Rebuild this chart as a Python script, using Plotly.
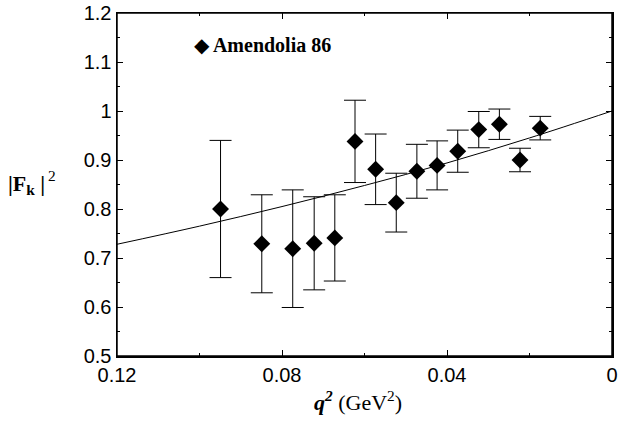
import plotly.graph_objects as go

# Data
q2 = [0.0949, 0.0849, 0.0774, 0.0722, 0.0672, 0.0623, 0.0573, 0.0523,
      0.0473, 0.0424, 0.0374, 0.0323, 0.0273, 0.0223, 0.0174]
ff2 = [0.800, 0.729, 0.719, 0.730, 0.741, 0.938, 0.881, 0.813,
       0.877, 0.889, 0.918, 0.962, 0.973, 0.900, 0.965]
err = [0.140, 0.100, 0.120, 0.095, 0.088, 0.084, 0.072, 0.060,
       0.055, 0.050, 0.043, 0.037, 0.031, 0.024, 0.024]

# Model curve
curve_q2 = [0.0, 0.02, 0.04, 0.06, 0.08, 0.10, 0.12]
curve_ff2 = [1.000, 0.945, 0.894, 0.848, 0.805, 0.765, 0.728]

# Tick spacing (labels: 0.12, 0.08, 0.04, 0 and 0.5 ... 1.2)
x_major, x_minor_step = 0.04, 0.02
y_major, y_minor_step = 0.1, 0.05

SERIF = "Liberation Serif"
SANS = "Liberation Sans"

fig = go.Figure()
fig.add_trace(go.Scatter(
    x=curve_q2, y=curve_ff2, mode="lines", line=dict(color="black", width=1, shape="spline"),
    showlegend=False, hoverinfo="skip"))
fig.add_trace(go.Scatter(
    x=q2, y=ff2, mode="markers", name="Amendolia 86", showlegend=False,
    marker=dict(symbol="diamond", size=13, color="black"),
    error_y=dict(type="data", array=err, visible=True, color="black", thickness=1, width=11)))

axis_common = dict(
    showgrid=False, zeroline=False, showline=True, linecolor="black", linewidth=1.5,
    mirror="allticks", ticks="inside", tickcolor="black", ticklen=6, tickwidth=1,
    tickfont=dict(family=SANS, size=20, color="black"),
    automargin=False, fixedrange=True, tickmode="linear",
)
fig.update_xaxes(range=[0.12, 0], tick0=0, dtick=x_major, tickformat=".2~f",
                 minor=dict(dtick=x_minor_step, tick0=0, ticks="inside", ticklen=3,
                            tickcolor="black", tickwidth=1, showgrid=False),
                 **axis_common)
fig.update_yaxes(range=[0.5, 1.2], tick0=0.5, dtick=y_major, tickformat=".1~f",
                 minor=dict(dtick=y_minor_step, tick0=0.5, ticks="inside", ticklen=3,
                            tickcolor="black", tickwidth=1, showgrid=False),
                 **axis_common)

fig.update_layout(
    width=619, height=421,
    margin=dict(l=117, r=7, t=13, b=65),
    paper_bgcolor="white", plot_bgcolor="white",
    showlegend=False,
    shapes=[dict(type="rect", xref="paper", yref="paper", x0=0, x1=1, y0=0, y1=1,
                 line=dict(color="black", width=1.5), fillcolor="rgba(0,0,0,0)", layer="above")],
    annotations=[
        # legend entry
        dict(xref="paper", yref="paper", x=0.152, y=0.907, xanchor="left", yanchor="middle",
             showarrow=False,
             text="◆<b> Amendolia 86</b>",
             font=dict(family=SERIF, size=20, color="black")),
        # y-axis title
        dict(xref="paper", yref="paper", x=-0.172, y=0.51, xanchor="center", yanchor="middle",
             showarrow=False,
             text="<b>|F</b><sub><b>k</b></sub><b> |</b><sup><sup> </sup>2</sup>",
             font=dict(family=SERIF, size=22, color="black")),
        # x-axis title
        dict(xref="paper", yref="paper", x=0.487, y=-0.13, xanchor="center", yanchor="middle",
             showarrow=False,
             text="<b><i>q</i></b><sup><b><i>2</i></b></sup> (GeV<sup>2</sup>)",
             font=dict(family=SERIF, size=22, color="black")),
    ],
)

fig.write_html("out.html", config=dict(displayModeBar=False, staticPlot=True),
               post_script="document.body.style.margin='0';document.body.style.overflow='hidden';")
